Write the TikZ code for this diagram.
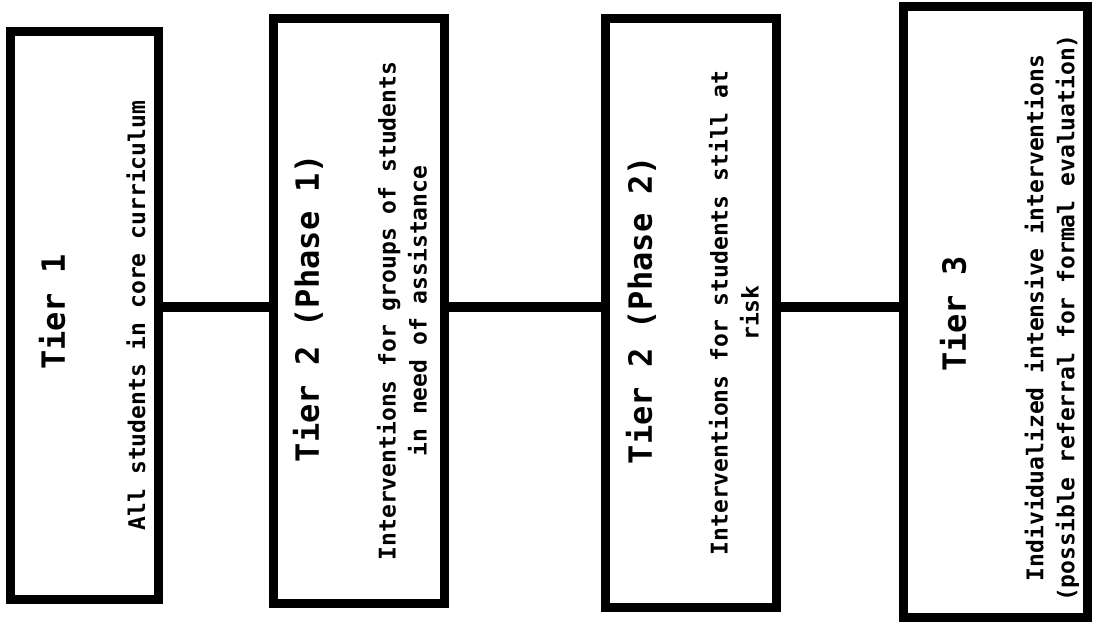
\documentclass[tikz,border=0pt]{standalone}
\usepackage{fontspec}
\setmonofont{DejaVu Sans Mono}
\begin{document}
\begin{tikzpicture}[x=1pt,y=-1pt,
  tierbox/.style={draw=black,line width=9pt,fill=white,inner sep=0pt},
  title/.style={rotate=90,font=\ttfamily\bfseries\fontsize{32}{36}\selectfont,inner sep=0pt},
  body/.style={rotate=90,font=\ttfamily\bfseries\fontsize{23}{31}\selectfont,align=center,inner sep=0pt},
  link/.style={line width=10pt}]
\useasboundingbox (0,0) rectangle (1095,625);
% boxes (outer extents)
\node[tierbox,minimum width=148pt,minimum height=568pt] (b1) at (84.5,315.5) {};
\node[tierbox,minimum width=171pt,minimum height=585pt] (b2) at (359,311) {};
\node[tierbox,minimum width=171pt,minimum height=589pt] (b3) at (691,313) {};
\node[tierbox,minimum width=184pt,minimum height=611pt] (b4) at (995.5,312) {};
% connectors
\draw[link] (b1.east |- 0,307) -- (b2.west |- 0,307);
\draw[link] (b2.east |- 0,307) -- (b3.west |- 0,307);
\draw[link] (b3.east |- 0,307) -- (b4.west |- 0,307);
% texts
\node[title] (t1) at (52,312) {Tier 1};
\node[body] (d1) at (136,315.5) {All students in core curriculum};
\node[title] (t2) at (308,308) {Tier 2 (Phase 1)};
\node[body] (d2) at (402,311) {Interventions for groups of students\\in need of assistance};
\node[title] (t3) at (641,310) {Tier 2 (Phase 2)};
\node[body] (d3) at (734,313) {Interventions for students still at\\risk};
\node[title] (t4) at (953,314) {Tier 3};
\node[body] (d4) at (1052,318) {Individualized intensive interventions\\(possible referral for formal evaluation)};
\end{tikzpicture}
\end{document}
